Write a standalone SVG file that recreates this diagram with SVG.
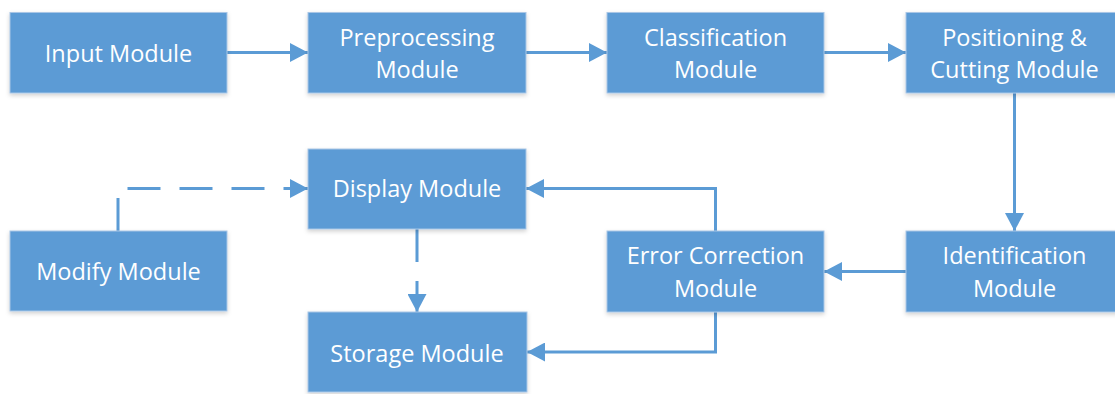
<svg xmlns="http://www.w3.org/2000/svg" width="1115" height="394" viewBox="0 0 1115 394">
<style>
.box{fill:#5B9BD5;stroke:#A9C6E6;stroke-width:1}
.t{fill:#FFFFFF;font-family:"Open Sans","Noto Sans",sans-serif;font-size:23.5px;text-anchor:middle}
.ln{fill:none;stroke:#5B9BD5;stroke-width:3}
.ds{stroke-dasharray:33,19}
</style>
<defs>
<filter id="sh" x="-10%" y="-10%" width="120%" height="130%">
<feDropShadow dx="0" dy="2" stdDeviation="2" flood-color="#000" flood-opacity="0.18"/>
</filter>
<marker id="a" viewBox="0 0 18 19" refX="18" refY="9.5" markerWidth="18" markerHeight="19" markerUnits="userSpaceOnUse" orient="auto">
<path d="M0,0 L18,9.5 L0,19 z" fill="#5B9BD5"/>
</marker>
</defs>
<g id="connectors">
<line class="ln" x1="227" y1="52.5" x2="308" y2="52.5" marker-end="url(#a)"/>
<line class="ln" x1="526" y1="52.5" x2="607" y2="52.5" marker-end="url(#a)"/>
<line class="ln" x1="824" y1="52.5" x2="906" y2="52.5" marker-end="url(#a)"/>
<line class="ln" x1="1014.5" y1="93" x2="1014.5" y2="231" marker-end="url(#a)"/>
<line class="ln" x1="906" y1="271.5" x2="824" y2="271.5" marker-end="url(#a)"/>
<polyline class="ln" points="715.5,231 715.5,188.5 526,188.5" marker-end="url(#a)"/>
<polyline class="ln" points="715.5,312 715.5,352 527,352" marker-end="url(#a)"/>
<polyline class="ln ds" points="118,231 118,188.5 308,188.5" marker-end="url(#a)"/>
<line class="ln ds" x1="417" y1="229" x2="417" y2="312" marker-end="url(#a)"/>
</g>
<g id="input"><rect class="box" filter="url(#sh)" x="10" y="12.5" width="217" height="80.5"/><text class="t" x="118.5" y="62">Input Module</text></g>
<g id="preprocessing"><rect class="box" filter="url(#sh)" x="308" y="12.5" width="218" height="80.5"/><text class="t" x="417" y="46">Preprocessing</text><text class="t" x="417" y="78">Module</text></g>
<g id="classification"><rect class="box" filter="url(#sh)" x="607" y="12.5" width="217" height="80.5"/><text class="t" x="715.5" y="46">Classification</text><text class="t" x="715.5" y="78">Module</text></g>
<g id="positioning"><rect class="box" filter="url(#sh)" x="906" y="12.5" width="217" height="80.5"/><text class="t" x="1014.5" y="46">Positioning &amp;</text><text class="t" x="1014.5" y="78">Cutting Module</text></g>
<g id="display"><rect class="box" filter="url(#sh)" x="308" y="149" width="218" height="80"/><text class="t" x="417" y="197">Display Module</text></g>
<g id="modify"><rect class="box" filter="url(#sh)" x="10" y="231" width="217" height="80"/><text class="t" x="118.5" y="280">Modify Module</text></g>
<g id="error"><rect class="box" filter="url(#sh)" x="607" y="231" width="217" height="81"/><text class="t" x="715.5" y="264">Error Correction</text><text class="t" x="715.5" y="296.5">Module</text></g>
<g id="identification"><rect class="box" filter="url(#sh)" x="906" y="231" width="217" height="81"/><text class="t" x="1014.5" y="264">Identification</text><text class="t" x="1014.5" y="296.5">Module</text></g>
<g id="storage"><rect class="box" filter="url(#sh)" x="308" y="312" width="219" height="80"/><text class="t" x="417" y="361.5">Storage Module</text></g>
</svg>
